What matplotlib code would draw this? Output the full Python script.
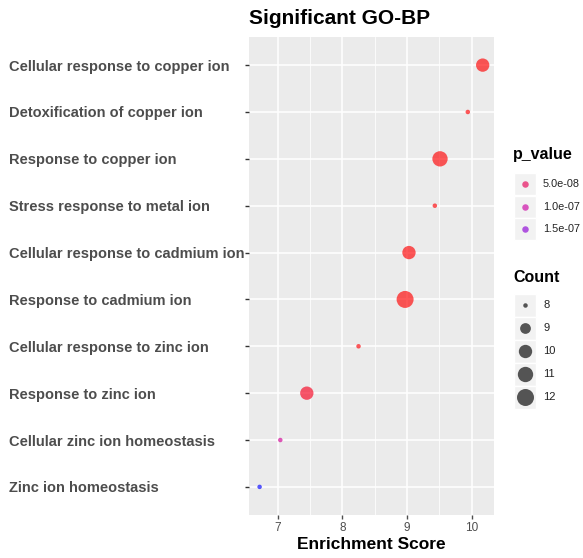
import numpy as np
import matplotlib.pyplot as plt
from matplotlib.colors import LinearSegmentedColormap, Normalize
from matplotlib.patches import Rectangle
from matplotlib.transforms import blended_transform_factory

plt.rcParams['font.family'] = ['Liberation Sans', 'DejaVu Sans']

# ---------------- data ----------------
terms = ["Cellular response to copper ion", "Detoxification of copper ion",
         "Response to copper ion", "Stress response to metal ion",
         "Cellular response to cadmium ion", "Response to cadmium ion",
         "Cellular response to zinc ion", "Response to zinc ion",
         "Cellular zinc ion homeostasis", "Zinc ion homeostasis"]
enrichment = [10.17, 9.94, 9.51, 9.43, 9.03, 8.97, 8.25, 7.45, 7.04, 6.72]
counts = [10, 8, 11, 8, 10, 12, 8, 10, 8, 8]
p_values = [2.0e-10, 1.5e-09, 1.0e-09, 2.0e-09, 1.0e-09, 5.0e-10, 3.0e-09, 1.8e-08, 9.0e-08, 2.0e-07]

p_breaks = [5.0e-08, 1.0e-07, 1.5e-07]
p_break_labels = ["5.0e-08", "1.0e-07", "1.5e-07"]
count_breaks = [8, 9, 10, 11, 12]

# ---------------- scales ----------------
cmap = LinearSegmentedColormap.from_list(
    "redblue", [(0, "#FF0000"), (0.25, "#E60057"), (0.5, "#CB00A3"),
                (0.75, "#8C00D6"), (1.0, "#0000FF")])
norm = Normalize(vmin=min(p_values), vmax=max(p_values))
ALPHA = 0.65


def size_to_s(c):
    # ggplot-like area scale, diameter in px -> marker area in pt^2
    gg = 1 + 5 * np.sqrt((np.asarray(c, float) - 8) / 4)
    d_px = 2 + 2.5 * gg
    return (d_px / 100 * 72) ** 2


W, H = 583, 558
fig = plt.figure(figsize=(W / 100, H / 100), dpi=100)
ax = fig.add_axes([249 / W, 1 - 515 / H, (494 - 249) / W, (515 - 37) / H])
ax.set_facecolor("#EBEBEB")

ypos = np.arange(len(terms))[::-1]
ax.scatter(enrichment, ypos, s=size_to_s(counts), c=cmap(norm(p_values)),
           alpha=ALPHA, linewidths=0, zorder=3)

ax.set_xlim(6.556, 10.345)
ax.set_ylim(-0.6, len(terms) - 0.4)
ax.set_xticks([7, 8, 9, 10])
ax.set_xticks([7.5, 8.5, 9.5], minor=True)
ax.set_yticks(ypos)
ax.set_yticklabels([])
# left-aligned category labels, like ggplot's hjust=0
trans = blended_transform_factory(fig.transFigure, ax.transData)
for y, t in zip(ypos, terms):
    ax.text(9 / W, y, t, transform=trans, fontsize=10.5, fontweight="bold",
            color="#4D4D4D", ha="left", va="center_baseline")
ax.tick_params(axis="x", labelsize=8.5, colors="#4D4D4D", length=3, width=1, pad=2)
ax.tick_params(axis="y", length=3, width=1, colors="#333333")
ax.tick_params(axis="x", which="minor", length=0)
ax.grid(which="major", color="white", linewidth=1.1, zorder=0)
ax.grid(which="minor", axis="x", color="white", linewidth=0.55, zorder=0)
ax.set_axisbelow(True)
for sp in ax.spines.values():
    sp.set_visible(False)

ax.set_xlabel("Enrichment Score", fontsize=12.5, fontweight="bold", labelpad=2)
fig.text(249 / W, 1 - 18 / H, "Significant GO-BP", fontsize=15, fontweight="bold",
         ha="left", va="center")

# ---------------- legends (ggplot style, drawn in pixel space) ----------------
leg = fig.add_axes([0, 0, 1, 1], facecolor="none")
leg.set_xlim(0, W)
leg.set_ylim(H, 0)
leg.axis("off")

leg.text(513, 155, "p_value", fontsize=11.5, fontweight="bold", va="center", ha="left")
for i, (pb, lab) in enumerate(zip(p_breaks, p_break_labels)):
    yc = 184 + i * 22.5
    leg.add_patch(Rectangle((514, yc - 11), 22, 22, facecolor="#F2F2F2", edgecolor="white", lw=1))
    leg.scatter([525], [yc], s=(6.5 / 100 * 72) ** 2, color=cmap(norm(pb)), alpha=ALPHA, linewidths=0)
    leg.text(543, yc, lab, fontsize=7.8, color="#222222", va="center", ha="left")

leg.text(513, 277, "Count", fontsize=11.5, fontweight="bold", va="center", ha="left")
for i, cb in enumerate(count_breaks):
    yc = 305 + i * 23
    leg.add_patch(Rectangle((514, yc - 11.5), 22, 23, facecolor="#F2F2F2", edgecolor="white", lw=1))
    leg.scatter([525], [yc], s=size_to_s(cb), color="black", alpha=ALPHA, linewidths=0)
    leg.text(543, yc, str(cb), fontsize=8, color="#222222", va="center", ha="left")

fig.savefig("out.png", dpi=100)
